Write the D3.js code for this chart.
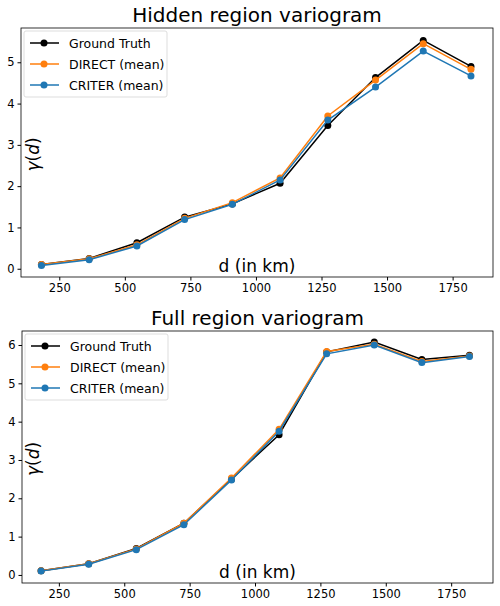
<!DOCTYPE html><html><head><script src="https://cdn.jsdelivr.net/npm/d3@7"></script>
<style>body{margin:0;background:#fff}</style></head><body><svg width="500" height="606"></svg>
<script>
const dist=[182,364,546,728,910,1092,1274,1456,1638,1820];
const xTicks=[250,500,750,1000,1250,1500,1750];
const hiddenGT=[0.1,0.25,0.63,1.25,1.57,2.07,3.47,4.63,5.53,4.9];
const hiddenDirect=[0.1,0.24,0.58,1.22,1.6,2.2,3.7,4.57,5.45,4.83];
const hiddenCriter=[0.08,0.22,0.55,1.19,1.56,2.15,3.6,4.4,5.27,4.67];
const fullGT=[0.11,0.29,0.69,1.35,2.5,3.66,5.82,6.08,5.62,5.73];
const fullDirect=[0.11,0.29,0.68,1.35,2.53,3.8,5.83,6.02,5.57,5.71];
const fullCriter=[0.1,0.28,0.66,1.31,2.48,3.75,5.77,6.0,5.54,5.7];
const names=["Ground Truth","DIRECT (mean)","CRITER (mean)"];
const colors=["#000000","#ff7f0e","#1f77b4"];
const svg=d3.select("svg");
const font="DejaVu Sans";
function panel(cfg){
  const x=d3.scaleLinear().domain(cfg.xd).range([cfg.l,cfg.r]);
  const y=d3.scaleLinear().domain(cfg.yd).range([cfg.b,cfg.t]);
  const g=svg.append("g");
  g.append("text").attr("x",(cfg.l+cfg.r)/2).attr("y",cfg.t-6).attr("text-anchor","middle")
   .attr("font-family",font).attr("font-size",20).text(cfg.title);
  const xa=g.append("g").attr("transform",`translate(0,${cfg.b})`).call(d3.axisBottom(x).tickValues(xTicks).tickFormat(d3.format("d")).tickSize(3.5).tickSizeOuter(0));
  const ya=g.append("g").attr("transform",`translate(${cfg.l},0)`).call(d3.axisLeft(y).ticks(cfg.yt).tickSize(3.5).tickSizeOuter(0));
  [xa,ya].forEach(a=>{a.selectAll("text").attr("font-family",font).attr("font-size",11.5).attr("fill","#000");a.select(".domain").remove();a.selectAll("line").attr("stroke","#000");});
  const line=d3.line().x((d,i)=>x(dist[i])).y(d=>y(d));
  cfg.series.forEach((s,k)=>{
    g.append("path").attr("d",line(s)).attr("fill","none").attr("stroke",colors[k]).attr("stroke-width",1.5);
    g.selectAll(null).data(s).enter().append("circle").attr("cx",(d,i)=>x(dist[i])).attr("cy",d=>y(d)).attr("r",3.5).attr("fill",colors[k]);
  });
  g.append("rect").attr("x",cfg.l).attr("y",cfg.t).attr("width",cfg.r-cfg.l).attr("height",cfg.b-cfg.t).attr("fill","none").attr("stroke","#000").attr("stroke-width",0.8);
  g.append("text").attr("x",(cfg.l+cfg.r)/2).attr("y",cfg.b-5).attr("text-anchor","middle").attr("font-family",font).attr("font-size",17).text("d (in km)");
  const yl=g.append("text").attr("transform",`translate(39,${(cfg.t+cfg.b)/2+2}) rotate(-90)`).attr("text-anchor","middle").attr("font-family",font).attr("font-size",17).attr("font-style","italic");
  yl.append("tspan").text("γ");yl.append("tspan").attr("font-style","normal").text("(");yl.append("tspan").text("d");yl.append("tspan").attr("font-style","normal").text(")");
  const lg=g.append("g").attr("transform",`translate(${cfg.l+3},${cfg.t+3})`);
  lg.append("rect").attr("width",143).attr("height",66).attr("rx",2).attr("fill","#fff").attr("fill-opacity",0.8).attr("stroke","#ddd");
  names.forEach((n,k)=>{
    const yy=12+k*21;
    lg.append("line").attr("x1",6).attr("x2",35).attr("y1",yy).attr("y2",yy).attr("stroke",colors[k]).attr("stroke-width",1.5);
    lg.append("circle").attr("cx",20).attr("cy",yy).attr("r",3.5).attr("fill",colors[k]);
    lg.append("text").attr("x",45).attr("y",yy+4.5).attr("font-family",font).attr("font-size",12.5).text(n);
  });
}
panel({title:"Hidden region variogram",l:21,r:493,t:28,b:277,xd:[104,1904],yd:[-0.2,5.83],yt:6,series:[hiddenGT,hiddenDirect,hiddenCriter]});
panel({title:"Full region variogram",l:22,r:493,t:331,b:583,xd:[109,1910],yd:[-0.21,6.365],yt:7,series:[fullGT,fullDirect,fullCriter]});
</script></body></html>
